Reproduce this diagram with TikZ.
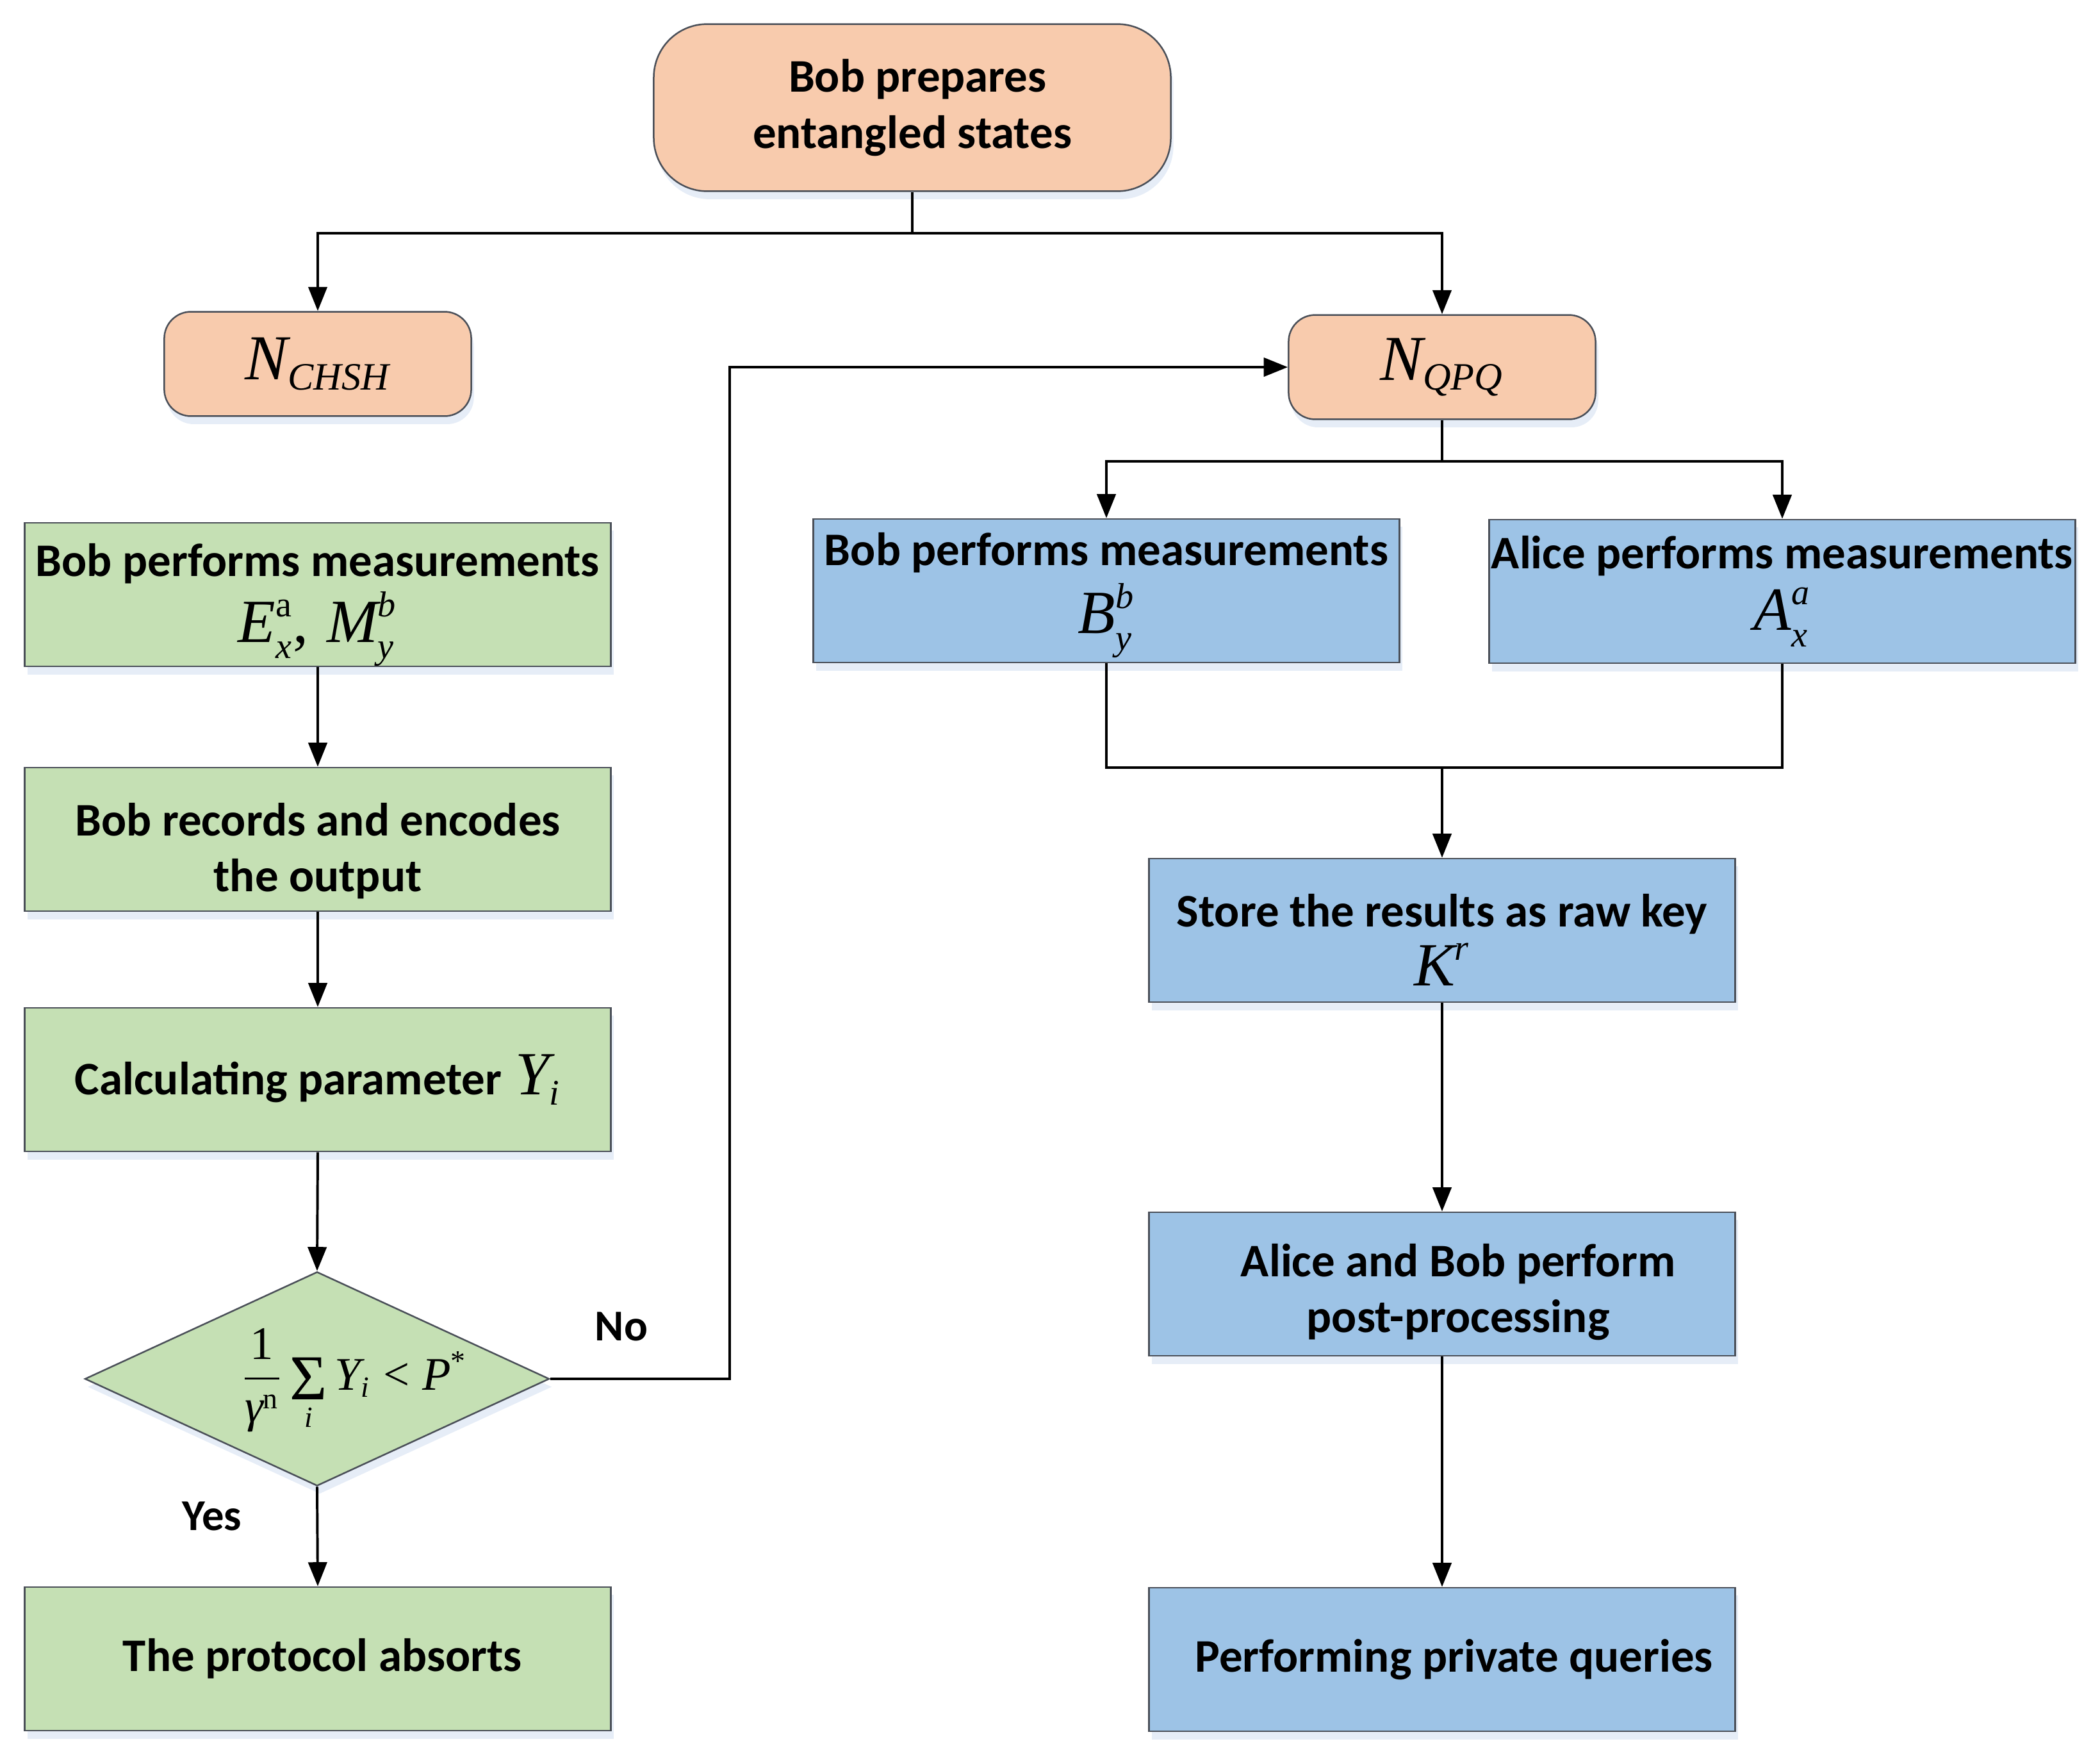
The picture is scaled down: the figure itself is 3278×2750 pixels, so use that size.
\documentclass[tikz,border=0pt]{standalone}
\usepackage{fontspec}
\usepackage{amsmath}
\setmainfont{Carlito}
\newfontfamily\tnr{Liberation Serif}
\usetikzlibrary{shapes.geometric,arrows.meta,shadows}
\DeclareMathSizes{23}{23}{13.5}{10}
\DeclareMathSizes{24}{24}{14.5}{10}
\DeclareMathSizes{17.5}{17.5}{11}{8}
\newcommand\vi[1]{\text{\tnr\mdseries\itshape #1}}
\newcommand\vr[1]{\text{\tnr\mdseries\upshape #1}}
\newcommand\mth[1]{{\fontsize{23}{27}\selectfont$#1$}}
\newcommand\nmth[1]{{\fontsize{24}{28}\selectfont$#1$}}
\newcommand\dn[1]{\rule{0pt}{#1}}
\newcommand\txtfont{\fontsize{17.5}{21}\selectfont\bfseries}
\definecolor{peach}{HTML}{F8CBAD}
\definecolor{gfill}{HTML}{C5E0B4}
\definecolor{bfill}{HTML}{9DC3E6}
\definecolor{bord}{HTML}{4A4F58}
\definecolor{shadowc}{HTML}{E6EDF7}
\begin{document}
\begin{tikzpicture}[x=0.24pt,y=-0.24pt,
  shad/.style={drop shadow={shadow xshift=1pt,shadow yshift=-3pt,fill=shadowc,opacity=1,draw=none}},
  box/.style={draw=bord,line width=0.6pt,minimum width=219.6pt,minimum height=53.8pt,inner sep=0pt,align=center,font=\txtfont,shad},
  gbox/.style={box,fill=gfill},
  bbox/.style={box,fill=bfill},
  rbox/.style={draw=bord,line width=0.6pt,fill=peach,rounded corners=10pt,minimum width=115pt,minimum height=39.1pt,inner sep=0pt,align=center,font=\txtfont,shad},
  dia/.style={diamond,draw=bord,line width=0.6pt,fill=gfill,minimum width=174pt,minimum height=80.2pt,inner sep=0pt,shad},
  lbl/.style={inner sep=0pt,font=\fontsize{16.5}{20}\selectfont\bfseries},
  conn/.style={line width=0.95pt},
  arr/.style={conn,-{Triangle[length=9pt,width=7pt]}}
]
\useasboundingbox (0,0) rectangle (3278,2750);

% nodes
\node[rbox,minimum width=193.7pt,minimum height=62.6pt,rounded corners=20pt] (top) at (1424,168) {\hspace*{4pt}Bob prepares\\entangled states};
\node[rbox] (nchsh) at (496,568) {\nmth{\vi{N}_{\vi{CHSH}}}};
\node[rbox] (nqpq) at (2251,573) {\nmth{\vi{N}_{\vi{QPQ}}}};

\node[gbox] (g1) at (496,928) {\dn{20pt}Bob performs measurements\\[2pt]\mth{\vi{E}^{\vr{a}}_{\vi{x}}\vr{,\hspace{0.3em}}\vi{M}^{\vi{b}}_{\vi{y}}}};
\node[gbox] (g2) at (496,1310) {\dn{21pt}Bob records and encodes\\the output};
\node[gbox] (g3) at (496,1685) {Calculating parameter\hspace{5pt}\mth{\vi{Y}_{\vi{i}}}};
\node[dia] (dia) at (495,2152) {};
\node[inner sep=0pt] (form) at (553,2154) {{\fontsize{17.5}{21}\selectfont$\dfrac{\vr{1}}{\vi{γ}^{\vr{n}}}\mathop{\vcenter{\hbox{\tnr\mdseries\fontsize{24}{26}\selectfont Σ}}}\limits_{\vi{i}}\vi{Y}_{\vi{i}}\mathrel{\vr{<}}\vi{P}^{\vr{*}}$}};
\node[gbox] (g5) at (496,2589) {\hspace*{3.5pt}The protocol absorts};

\node[bbox] (bob) at (1727,922) {\dn{15.6pt}Bob performs measurements\\[3pt]\mth{\vi{B}^{\vi{b}}_{\vi{y}}}};
\node[bbox] (alice) at (2782,923) {Alice performs measurements\\[2pt]\mth{\vi{A}^{\vi{a}}_{\vi{x}}}};
\node[bbox] (store) at (2251,1452) {\dn{19.4pt}Store the results as raw key\\[1pt]\mth{\vi{K}^{\vi{r}}}};
\node[bbox] (post) at (2251,2004) {\dn{18.2pt}\hspace*{12pt}Alice and Bob perform\\\hspace*{12pt}post-processing};
\node[bbox] (query) at (2251,2590) {\hspace*{9pt}Performing private queries};

\node[lbl] (no) at (970,2070) {No};
\node[lbl] (yes) at (331,2366) {Yes};

% junction coordinates
\coordinate (j1) at (1424,364);
\coordinate (j2) at (2251,720);
\coordinate (j3) at (2251,1198);
\coordinate (j4) at (1139,2152);

% connectors
\draw[conn] (top.south) -- (j1);
\draw[arr] (j1) -| (nchsh.north);
\draw[arr] (j1) -| (nqpq.north);
\draw[conn] (nqpq.south) -- (j2);
\draw[arr] (j2) -| (bob.north);
\draw[arr] (j2) -| (alice.north);
\draw[conn] (bob.south) |- (j3) -| (alice.south);
\draw[arr] (j3) -- (store.north);
\draw[arr] (store.south) -- (post.north);
\draw[arr] (post.south) -- (query.north);

\draw[arr] (g1.south) -- (g2.north);
\draw[arr] (g2.south) -- (g3.north);
\draw[arr] (g3.south) -- (dia.north);
\draw[arr] (dia.south) -- (g5.north);
\draw[arr] (dia.east) -- (j4) |- (nqpq.west);
\end{tikzpicture}
\end{document}
